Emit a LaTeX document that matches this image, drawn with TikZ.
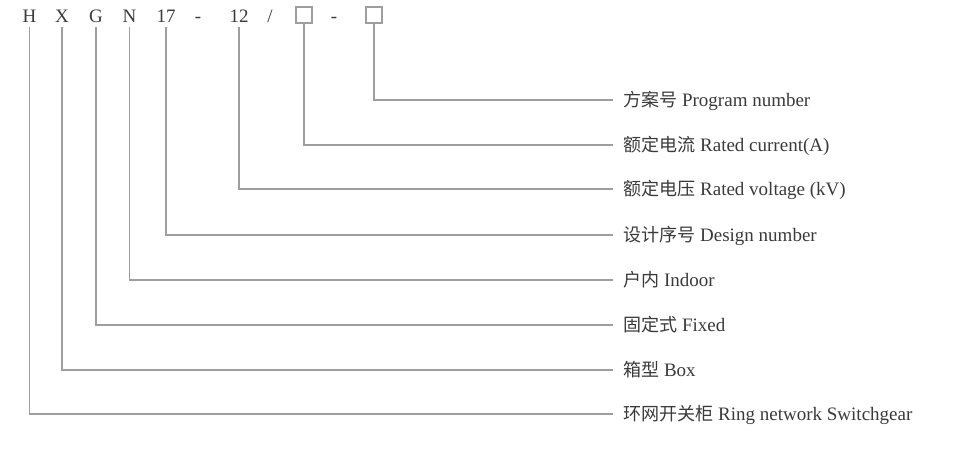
\documentclass[tikz,border=0pt]{standalone}
\usepackage{fontspec}
\setmainfont{Liberation Serif}
\newfontfamily\cjk[Scale=0.95]{Noto Sans CJK SC}
\usepackage{xcolor}
\usetikzlibrary{positioning}
\definecolor{leadgray}{HTML}{9E9E9E}
\definecolor{textgray}{HTML}{3A3A3A}
\tikzset{
  code/.style={anchor=base,inner xsep=0pt,inner ysep=5pt,text height=12pt,text depth=0pt,text=textgray},
  codebox/.style={draw=leadgray,line width=1.3pt,minimum size=16pt,inner sep=0pt},
  label/.style={anchor=west,inner xsep=10pt,inner ysep=0pt,text height=12pt,text depth=0pt,text=textgray},
  lead/.style={draw=leadgray,line width=1.5pt}
}
\begin{document}
\begin{tikzpicture}[x=1pt,y=-1pt,font=\fontsize{19}{22}\selectfont]
    \useasboundingbox (0,0) rectangle (977,451);
    % model code
    \node[code] (H) at (29.5,22) {H};
    \node[code] (X) at (62,22) {X};
    \node[code] (G) at (96,22) {G};
    \node[code] (N) at (129.5,22) {N};
    \node[code] (d17) at (166,22) {17};
    \node[code] (dashA) at (198,22) {-};
    \node[code] (d12) at (239,22) {12};
    \node[code] (slash) at (270,22) {/};
    \node[codebox] (boxA) at (304,15) {};
    \node[code] (dashB) at (334,22) {-};
    \node[codebox] (boxB) at (374,15) {};

    % meanings
    \node[label] (lProg) at (613,100) {{\cjk 方案号} Program number};
    \node[label] (lCurr) at (613,145) {{\cjk 额定电流} Rated current(A)};
    \node[label] (lVolt) at (613,189) {{\cjk 额定电压} Rated voltage (kV)};
    \node[label] (lDes) at (613,235) {{\cjk 设计序号} Design number};
    \node[label] (lIn) at (613,280) {{\cjk 户内} Indoor};
    \node[label] (lFix) at (613,325) {{\cjk 固定式} Fixed};
    \node[label] (lBox) at (613,370) {{\cjk 箱型} Box};
    \node[label] (lRing) at (613,414) {{\cjk 环网开关柜} Ring network Switchgear};

    % leaders
    \draw[lead] (boxB.south) |- (lProg.west);
    \draw[lead] (boxA.south) |- (lCurr.west);
    \draw[lead] (d12.south) |- (lVolt.west);
    \draw[lead] (d17.south) |- (lDes.west);
    \draw[lead] (N.south) |- (lIn.west);
    \draw[lead] (G.south) |- (lFix.west);
    \draw[lead] (X.south) |- (lBox.west);
    \draw[lead] (H.south) |- (lRing.west);
\end{tikzpicture}
\end{document}
